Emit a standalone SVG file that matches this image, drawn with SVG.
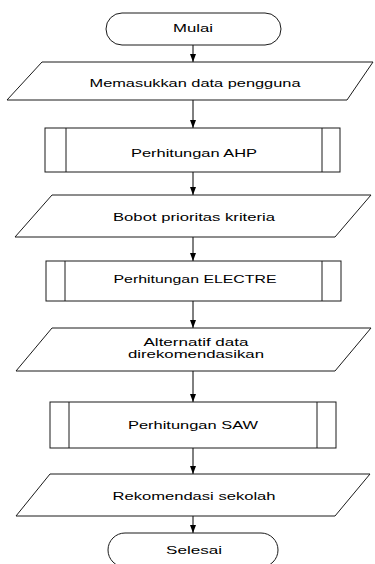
<svg xmlns="http://www.w3.org/2000/svg" width="375" height="564" viewBox="0 0 375 564">
<style>
.s{fill:#fff;stroke:#1a1a1a;stroke-width:1}
.t{font-family:"Liberation Sans",Arial,sans-serif;font-size:11.5px;fill:#000;text-anchor:middle}
.c{stroke:#000;stroke-width:1;fill:none}
</style>
<defs>
<marker id="ah" markerWidth="8" markerHeight="6" refX="8" refY="3" orient="auto" markerUnits="userSpaceOnUse">
<path d="M0,0 L8,3 L0,6 Z" fill="#000"/>
</marker>
</defs>
<rect width="375" height="564" fill="#fff"/>
<g id="connectors">
<line class="c" x1="193" y1="45" x2="193" y2="62" marker-end="url(#ah)"/>
<line class="c" x1="193" y1="100" x2="193" y2="128" marker-end="url(#ah)"/>
<line class="c" x1="193" y1="172" x2="193" y2="195" marker-end="url(#ah)"/>
<line class="c" x1="193" y1="237" x2="193" y2="261" marker-end="url(#ah)"/>
<line class="c" x1="193" y1="301" x2="193" y2="328" marker-end="url(#ah)"/>
<line class="c" x1="193" y1="371" x2="193" y2="402" marker-end="url(#ah)"/>
<line class="c" x1="193" y1="448" x2="193" y2="474" marker-end="url(#ah)"/>
<line class="c" x1="193" y1="516" x2="193" y2="533" marker-end="url(#ah)"/>
</g>
<g id="mulai">
<rect class="s" x="106" y="13" width="175" height="32" rx="16" ry="16"/>
<text class="t" x="193" y="32" textLength="40" lengthAdjust="spacingAndGlyphs">Mulai</text>
</g>
<g id="input">
<polygon class="s" points="42,62 373,62 347,100 7,100"/>
<text class="t" x="195" y="87" textLength="211" lengthAdjust="spacingAndGlyphs">Memasukkan data pengguna</text>
</g>
<g id="ahp">
<rect class="s" x="45" y="128" width="295" height="44"/>
<line class="s" x1="66" y1="128" x2="66" y2="172"/>
<line class="s" x1="322" y1="128" x2="322" y2="172"/>
<text class="t" x="194" y="157" textLength="126" lengthAdjust="spacingAndGlyphs">Perhitungan AHP</text>
</g>
<g id="bobot">
<polygon class="s" points="52,195 371,195 335,237 15,237"/>
<text class="t" x="194" y="221" textLength="162" lengthAdjust="spacingAndGlyphs">Bobot prioritas kriteria</text>
</g>
<g id="electre">
<rect class="s" x="46" y="261" width="295" height="40"/>
<line class="s" x1="65" y1="261" x2="65" y2="301"/>
<line class="s" x1="322" y1="261" x2="322" y2="301"/>
<text class="t" x="195" y="283" textLength="163" lengthAdjust="spacingAndGlyphs">Perhitungan ELECTRE</text>
</g>
<g id="alternatif">
<polygon class="s" points="52,328 371,328 335,371 16,371"/>
<text class="t" x="196" y="346" textLength="105" lengthAdjust="spacingAndGlyphs">Alternatif data</text>
<text class="t" x="196" y="358" textLength="136" lengthAdjust="spacingAndGlyphs">direkomendasikan</text>
</g>
<g id="saw">
<rect class="s" x="50" y="402" width="286" height="46"/>
<line class="s" x1="69" y1="402" x2="69" y2="448"/>
<line class="s" x1="317" y1="402" x2="317" y2="448"/>
<text class="t" x="193" y="429" textLength="130" lengthAdjust="spacingAndGlyphs">Perhitungan SAW</text>
</g>
<g id="rekomendasi">
<polygon class="s" points="50,474 370,474 335,516 16,516"/>
<text class="t" x="194" y="500" textLength="163" lengthAdjust="spacingAndGlyphs">Rekomendasi sekolah</text>
</g>
<g id="selesai">
<rect class="s" x="108" y="533" width="170" height="34" rx="17" ry="17"/>
<text class="t" x="194" y="554" textLength="56" lengthAdjust="spacingAndGlyphs">Selesai</text>
</g>
</svg>
